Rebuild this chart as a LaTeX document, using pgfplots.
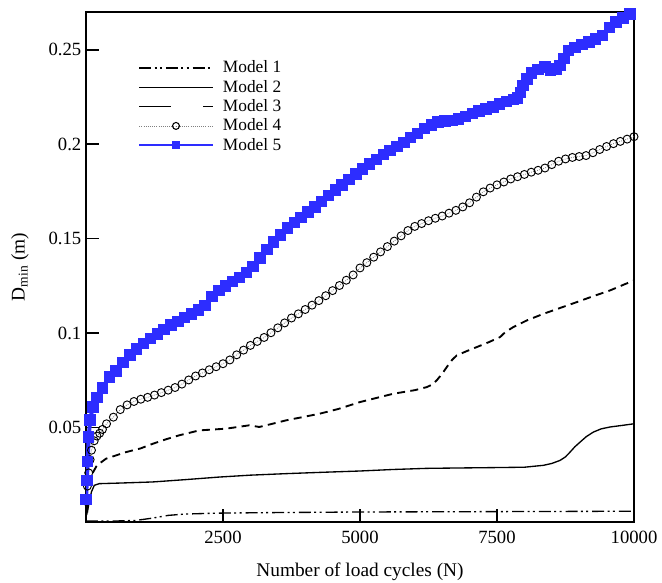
\documentclass[border=0pt]{standalone}
\usepackage{pgfplots}
\pgfplotsset{compat=1.18}
\usepackage{fontspec}
\setmainfont{Liberation Serif}
\definecolor{mblue}{RGB}{45,45,255}
\begin{document}
\begin{tikzpicture}
\begin{axis}[
  scale only axis, width=411pt, height=382.5pt,
  xmin=0, xmax=10000, ymin=0, ymax=0.27,
  xtick={2500,5000,7500,10000}, ytick={0.05,0.1,0.15,0.2,0.25},
  tick align=inside, xtick pos=bottom, ytick pos=left, major tick length=10pt,
  minor tick num=0, scaled ticks=false,
  xticklabel style={/pgf/number format/1000 sep={}, yshift=-3pt},
  yticklabel style={/pgf/number format/fixed, /pgf/number format/precision=2},
  /pgf/number format/assume math mode=true,
  tick label style={font=\fontsize{14}{16}\selectfont},
  label style={font=\fontsize{14.5}{17}\selectfont},
  xlabel={Number of load cycles (N)},
  xlabel style={yshift=-8pt},
  ylabel={D\textsubscript{min} (m)},
  ylabel style={yshift=8pt},
  axis line style={line width=1.1pt},
  every tick/.style={line width=1.1pt, black},
  clip=true,
  legend image code/.code={\draw[mark repeat=2,mark phase=2,#1] plot coordinates {(0pt,0pt) (27.5pt,0pt) (55pt,0pt)};},
  legend style={draw=none, fill=none, at={(0.095,0.91)}, anchor=north west,
    font=\fontsize{13}{15}\selectfont, row sep=0pt, inner sep=0pt,
    /tikz/every odd column/.append style={column sep=5pt}},
  legend cell align=left,
]
\addlegendimage{black, line width=1pt, dash pattern=on 9pt off 2.5pt on 1.5pt off 2.5pt on 1.5pt off 3pt}
\addlegendentry{Model 1}
\addlegendimage{black, line width=1pt}
\addlegendentry{Model 2}
\addlegendimage{black, line width=1.3pt, dash pattern=on 24pt off 24pt}
\addlegendentry{Model 3}
\addlegendimage{gray, line width=0.6pt, densely dotted, mark=o, mark size=2.6pt, mark options={solid, black, line width=0.8pt}}
\addlegendentry{Model 4}
\addlegendimage{mblue, line width=1.5pt, mark=square*, mark size=2.4pt, mark options={solid, mblue}}
\addlegendentry{Model 5}

% Model 1
\addplot[forget plot, black, line width=1pt, dash pattern=on 9pt off 2.5pt on 1.5pt off 2.5pt on 1.5pt off 3pt] table {
0 0.0005
500 0.0005
900 0.0008
1200 0.002
1500 0.0035
1800 0.0042
2400 0.0047
3500 0.005
5000 0.0053
7500 0.0055
10000 0.0057
};
% Model 2
\addplot[forget plot, black, line width=1pt] table {
0 0.015
15 0.01
31 0.006
60 0.011
100 0.016
151 0.0194
243 0.0203
600 0.0206
1217 0.0212
1800 0.0224
2433 0.0238
3000 0.0248
3650 0.0256
4300 0.0263
5000 0.027
5600 0.0278
6218 0.0284
6800 0.0286
7433 0.0288
8000 0.029
8346 0.030
8500 0.031
8650 0.0326
8750 0.0345
8833 0.037
8920 0.0398
9016 0.0423
9130 0.0452
9258 0.0476
9400 0.0493
9563 0.0503
9800 0.0512
10000 0.052
};
% Model 3
\addplot[forget plot, black, line width=1.4pt, dash pattern=on 6pt off 4pt] table {
122 0.026
200 0.030
365 0.0335
730 0.037
1000 0.039
1217 0.0414
1450 0.0437
1703 0.0459
2068 0.0485
2555 0.0494
2980 0.0512
3163 0.0503
3400 0.052
3650 0.0538
4258 0.0573
4600 0.0598
5000 0.0635
5608 0.0679
6000 0.0698
6218 0.0714
6320 0.0728
6400 0.075
6500 0.0785
6583 0.082
6680 0.0858
6765 0.0882
6950 0.0905
7130 0.0926
7350 0.0952
7556 0.0979
7650 0.1005
7798 0.1032
8050 0.1068
8346 0.1102
8650 0.1133
8955 0.1164
9250 0.1195
9563 0.1226
9800 0.1255
10000 0.1279
};
% Model 4
\addplot[forget plot, gray, line width=0.6pt, densely dotted, mark=o, mark size=3pt, mark options={solid, black, line width=0.7pt}] table {
0 0.011
25 0.019
50 0.026
75 0.033
100 0.038
150 0.043
200 0.0455
250 0.047
300 0.049
375 0.052
500 0.0555
625 0.0595
750 0.062
875 0.0638
1000 0.065
1125 0.066
1250 0.0672
1375 0.0685
1500 0.0698
1625 0.0712
1750 0.073
1875 0.0752
2000 0.0773
2125 0.0789
2250 0.0806
2375 0.0822
2500 0.0838
2625 0.0858
2750 0.0885
2875 0.091
3000 0.0935
3125 0.0956
3250 0.0977
3375 0.1002
3500 0.1028
3625 0.1054
3750 0.108
3875 0.1102
4000 0.1125
4125 0.1148
4250 0.1172
4375 0.1198
4500 0.1225
4625 0.1252
4750 0.128
4875 0.1308
5000 0.1345
5125 0.1373
5250 0.1402
5375 0.1430
5500 0.1458
5625 0.1487
5750 0.1515
5875 0.1543
6000 0.1565
6125 0.158
6250 0.1595
6375 0.1608
6500 0.162
6625 0.1635
6750 0.165
6875 0.1668
7000 0.169
7125 0.172
7250 0.1748
7375 0.1768
7500 0.1785
7625 0.18
7750 0.1816
7875 0.1828
8000 0.184
8125 0.1852
8250 0.1862
8375 0.1874
8500 0.1892
8625 0.191
8750 0.1922
8875 0.193
9000 0.1935
9125 0.194
9250 0.1955
9375 0.1972
9500 0.1988
9625 0.2003
9750 0.2015
9875 0.2027
10000 0.204
};
% Model 5
\addplot[forget plot, mblue, line width=3pt, mark=square*, mark size=2.8pt, mark options={solid, mblue}] table {
0 0.012
15 0.022
30 0.032
50 0.045
75 0.054
125 0.061
200 0.066
300 0.071
425 0.0767
550 0.080
675 0.0845
800 0.0885
925 0.0915
1050 0.0945
1175 0.0972
1300 0.0995
1425 0.1018
1550 0.1042
1675 0.1062
1800 0.1082
1925 0.1102
2050 0.1122
2175 0.1145
2300 0.1195
2425 0.1225
2550 0.125
2675 0.1272
2800 0.1295
2925 0.1322
3050 0.1352
3175 0.1398
3300 0.1442
3425 0.1482
3550 0.152
3675 0.1557
3800 0.1585
3925 0.1613
4050 0.164
4175 0.1668
4300 0.1698
4425 0.1728
4550 0.1758
4675 0.1785
4800 0.1812
4925 0.1842
5050 0.187
5175 0.1895
5300 0.192
5425 0.1945
5550 0.1968
5675 0.1988
5800 0.201
5925 0.2035
6050 0.2058
6175 0.2082
6300 0.2102
6425 0.2117
6550 0.2122
6675 0.2127
6800 0.2134
6925 0.2148
7050 0.2162
7175 0.2175
7300 0.2186
7425 0.2198
7550 0.2212
7675 0.2225
7800 0.2238
7875 0.2245
7925 0.2275
7975 0.231
8050 0.2345
8125 0.2378
8250 0.2395
8375 0.2408
8475 0.2392
8575 0.2398
8650 0.2416
8725 0.2455
8800 0.2495
8925 0.2512
9050 0.2528
9175 0.2540
9300 0.2556
9425 0.2575
9550 0.2618
9675 0.2648
9800 0.2668
9925 0.2690
10000 0.2705
};
\end{axis}
\pgfresetboundingbox
\useasboundingbox ([shift={(-64.5pt,-45.75pt)}]current axis.south west) rectangle ([shift={(432pt,391.5pt)}]current axis.south west);
\end{tikzpicture}
\end{document}
